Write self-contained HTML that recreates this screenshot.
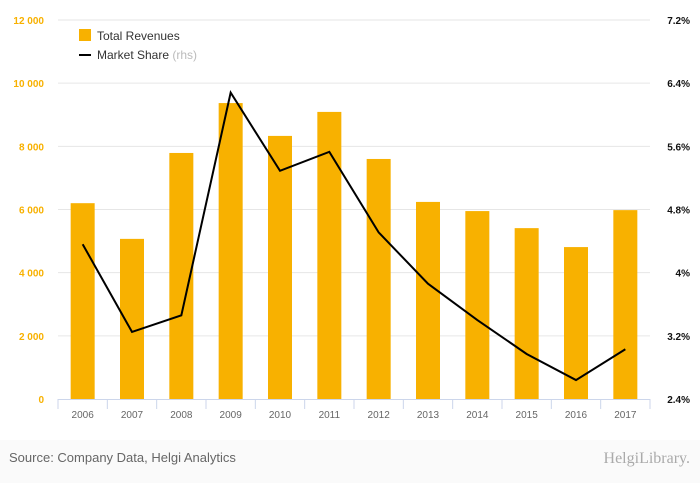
<!DOCTYPE html>
<html><head><meta charset="utf-8"><style>
body{margin:0;width:700px;height:483px;background:#fafafa;font-family:"Liberation Sans",sans-serif;overflow:hidden}
svg{display:block}
</style></head><body>
<svg id="c" width="700" height="483">
<rect x="0" y="0" width="700" height="440" fill="#ffffff"/>
<g id="grid"></g><g id="bars"></g><g id="axes"></g><g id="line"></g>
<g>
<rect x="79" y="29" width="12" height="12" fill="#f8b100"/>
<text x="97" y="40" font-size="12" fill="#333">Total Revenues</text>
<line x1="79" y1="55" x2="91" y2="55" stroke="#000" stroke-width="2"/>
<text x="97" y="59" font-size="12" fill="#333">Market Share <tspan fill="#bbb">(rhs)</tspan></text>
</g>
<text x="9" y="462" font-size="13" fill="#666">Source: Company Data, Helgi Analytics</text>
<text x="690" y="463" font-size="16" fill="#aaa" text-anchor="end" font-family="Liberation Serif,serif">HelgiLibrary.</text>
</svg>
<script>
const categories=["2006","2007","2008","2009","2010","2011","2012","2013","2014","2015","2016","2017"];
const revenues=[6200,5070,7790,9370,8330,9090,7600,6240,5950,5410,4810,5980];
const marketShare=[4.36,3.25,3.46,6.28,5.29,5.53,4.51,3.86,3.40,2.97,2.64,3.03];
const leftTicks=[0,2000,4000,6000,8000,10000,12000];
const leftTickLabels=["0","2 000","4 000","6 000","8 000","10 000","12 000"];
const rightTicks=[2.4,3.2,4,4.8,5.6,6.4,7.2];
const rightTickLabels=["2.4%","3.2%","4%","4.8%","5.6%","6.4%","7.2%"];
const NS="http://www.w3.org/2000/svg";
const X0=58,X1=650,Y0=399,Y1=20;
const yL=v=>Y0-(v/12000)*(Y0-Y1);
const yR=v=>Y0-((v-2.4)/4.8)*(Y0-Y1);
const bw=(X1-X0)/categories.length;
const xC=i=>X0+bw*(i+0.5);
function mk(tag,attrs,parent){const e=document.createElementNS(NS,tag);for(const k in attrs)e.setAttribute(k,attrs[k]);document.getElementById(parent).appendChild(e);return e;}
leftTicks.forEach((t,i)=>{
 const g=mk("line",{x1:X0,x2:X1,y1:yL(t),y2:yL(t),stroke:i==0?"none":"#e6e6e6","stroke-width":1},"grid");
 
 
 const l=mk("text",{x:44,y:yL(t)+4,"font-size":10,fill:"#f8b100","text-anchor":"end","font-weight":"bold"},"axes");
 l.textContent=leftTickLabels[i];
 
 
});
rightTicks.forEach((t,i)=>{
 const l=mk("text",{x:690,y:yR(t)+4,"font-size":10,fill:"#111","text-anchor":"end","font-weight":"bold"},"axes");
 l.textContent=rightTickLabels[i];
 
 
});
const ax=mk("line",{x1:X0,x2:X1,y1:Y0+0.5,y2:Y0+0.5,stroke:"#ccd6eb"},"axes");


for(let i=0;i<=categories.length;i++){
 const tk=mk("line",{x1:X0+bw*i,x2:X0+bw*i,y1:Y0,y2:Y0+10,stroke:"#ccd6eb"},"axes");
 
 
}
categories.forEach((c,i)=>{
 const b=mk("rect",{x:xC(i)-12,y:yL(revenues[i]),width:24,height:Y0-yL(revenues[i]),fill:"#f8b100"},"bars");
 
 
 const l=mk("text",{x:xC(i),y:418,"font-size":10,fill:"#666","text-anchor":"middle"},"axes");
 l.textContent=c;
 
 
});
const p=mk("polyline",{points:marketShare.map((v,i)=>xC(i)+","+yR(v)).join(" "),fill:"none",stroke:"#000","stroke-width":2},"line");


</script>
</body></html>
